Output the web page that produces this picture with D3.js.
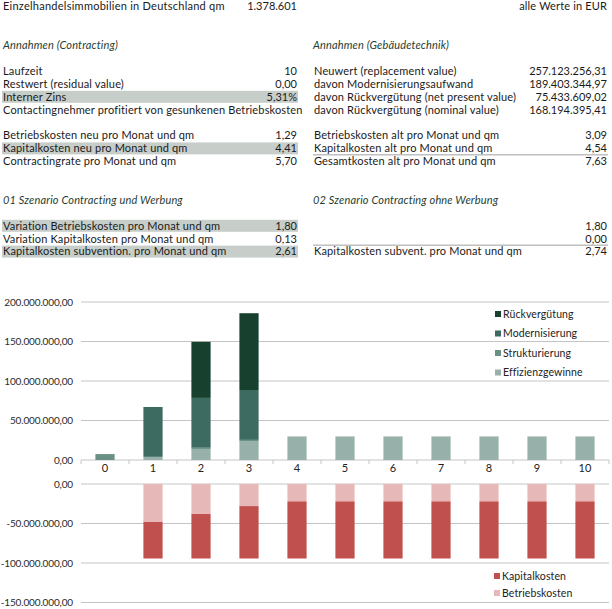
<!DOCTYPE html>
<html>
<head>
<meta charset="utf-8">
<script src="https://cdn.jsdelivr.net/npm/d3@7"></script>
<style>
  body { margin: 0; background: #fff; }
  text { font-family: Lato, "DejaVu Sans", sans-serif; }
</style>
</head>
<body>
<svg width="612" height="609"></svg>
<script>
// --- chart data (EUR) ---
const years = ["0", "1", "2", "3", "4", "5", "6", "7", "8", "9", "10"]
const effizienz = [0, 4.0e6, 14.0e6, 24.0e6, 29.8e6, 29.8e6, 29.8e6, 29.8e6, 29.8e6, 29.8e6, 29.8e6]
const strukturierung = [7.5e6, 0, 1.5e6, 1.5e6, 0, 0, 0, 0, 0, 0, 0]
const modernisierung = [0, 63.1e6, 63.1e6, 63.1e6, 0, 0, 0, 0, 0, 0, 0]
const rueckverguetung = [0, 0, 71.0e6, 97.2e6, 0, 0, 0, 0, 0, 0, 0]
const betriebskosten = [0, -48.0e6, -38.0e6, -28.0e6, -22.0e6, -22.0e6, -22.0e6, -22.0e6, -22.0e6, -22.0e6, -22.0e6]
const kapitalkosten = [0, -46.3e6, -56.3e6, -66.3e6, -72.3e6, -72.3e6, -72.3e6, -72.3e6, -72.3e6, -72.3e6, -72.3e6]
const topTicks = [0, 50e6, 100e6, 150e6, 200e6]
const bottomTicks = [0, -50e6, -100e6, -150e6]

// --- table text: [row, label, value, highlighted] ---
const leftRows = [
  [5, "Laufzeit", "10", false],
  [6, "Restwert (residual value)", "0,00", false],
  [7, "Interner Zins", "5,31%", true],
  [8, "Contactingnehmer profitiert von gesunkenen Betriebskosten", "", false],
  [10, "Betriebskosten neu pro Monat und qm", "1,29", false],
  [11, "Kapitalkosten neu pro Monat und qm", "4,41", true],
  [12, "Contractingrate pro Monat und qm", "5,70", false],
  [17, "Variation Betriebskosten pro Monat und qm", "1,80", true],
  [18, "Variation Kapitalkosten pro Monat und qm", "0,13", false],
  [19, "Kapitalkosten subvention. pro Monat und qm", "2,61", true]
]
const rightRows = [
  [5, "Neuwert (replacement value)", "257.123.256,31"],
  [6, "davon Modernisierungsaufwand", "189.403.344,97"],
  [7, "davon Rückvergütung (net present value)", "75.433.609,02"],
  [8, "davon Rückvergütung (nominal value)", "168.194.395,41"],
  [10, "Betriebskosten alt pro Monat und qm", "3,09"],
  [11, "Kapitalkosten alt pro Monat und qm", "4,54"],
  [12, "Gesamtkosten alt pro Monat und qm", "7,63"],
  [17, "", "1,80"],
  [18, "", "0,00"],
  [19, "Kapitalkosten subvent. pro Monat und qm", "2,74"]
]
const headers = [
  [3, 3, "Annahmen (Contracting)"],
  [3, 313, "Annahmen (Gebäudetechnik)"],
  [15, 3, "01 Szenario Contracting und Werbung"],
  [15, 313, "02 Szenario Contracting ohne Werbung"]
]
const ruleRows = [11.5, 18.5]

const svg = d3.select("svg")
const rowY = r => 6.5 + 12.9 * r
const textColor = "#1a1a1a"
const fontSize = 11
const ls = 0.15

// title row
svg.append("text").attr("x", 3).attr("y", rowY(0)).attr("dy", "0.35em")
  .attr("font-size", fontSize).attr("fill", textColor).attr("letter-spacing", 0.25)
  .text("Einzelhandelsimmobilien in Deutschland qm")
svg.append("text").attr("x", 297).attr("y", rowY(0)).attr("dy", "0.35em")
  .attr("text-anchor", "end").attr("font-size", fontSize).attr("fill", textColor)
  .text("1.378.601")
svg.append("text").attr("x", 607).attr("y", rowY(0)).attr("dy", "0.35em")
  .attr("text-anchor", "end").attr("font-size", fontSize).attr("fill", textColor)
  .attr("letter-spacing", ls)
  .text("alle Werte in EUR")

// highlight bands
svg.selectAll("rect.band").data(leftRows.filter(d => d[3])).join("rect")
  .attr("class", "band")
  .attr("x", 2).attr("width", 296)
  .attr("y", d => rowY(d[0]) - 6).attr("height", 12)
  .attr("fill", "#c7ceca")

svg.selectAll("text.hdr").data(headers).join("text")
  .attr("class", "hdr")
  .attr("x", d => d[1]).attr("y", d => rowY(d[0])).attr("dy", "0.35em")
  .attr("font-size", fontSize).attr("font-style", "italic").attr("fill", "#1f3d31")
  .attr("letter-spacing", ls)
  .text(d => d[2])

svg.selectAll("text.ll").data(leftRows).join("text")
  .attr("class", "ll")
  .attr("x", 3).attr("y", d => rowY(d[0])).attr("dy", "0.35em")
  .attr("font-size", fontSize).attr("fill", textColor).attr("letter-spacing", ls)
  .text(d => d[1])
svg.selectAll("text.lv").data(leftRows).join("text")
  .attr("class", "lv")
  .attr("x", 297).attr("y", d => rowY(d[0])).attr("dy", "0.35em")
  .attr("text-anchor", "end").attr("font-size", fontSize).attr("fill", textColor)
  .text(d => d[2])

svg.selectAll("text.rl").data(rightRows).join("text")
  .attr("class", "rl")
  .attr("x", 314).attr("y", d => rowY(d[0])).attr("dy", "0.35em")
  .attr("font-size", fontSize).attr("fill", textColor).attr("letter-spacing", ls)
  .text(d => d[1])
svg.selectAll("text.rv").data(rightRows).join("text")
  .attr("class", "rv")
  .attr("x", 607).attr("y", d => rowY(d[0])).attr("dy", "0.35em")
  .attr("text-anchor", "end").attr("font-size", fontSize).attr("fill", textColor)
  .text(d => d[2])

svg.selectAll("line.rule").data(ruleRows).join("line")
  .attr("class", "rule")
  .attr("x1", 313).attr("x2", 608)
  .attr("y1", d => rowY(d)).attr("y2", d => rowY(d))
  .attr("stroke", "#a0a0a0")

// --- charts ---
const x = d3.scaleBand().domain(years).range([81, 609]).paddingInner(0.6).paddingOuter(0.3)
const xb = d3.scaleBand().domain(years).range([81, 609])
const yTop = d3.scaleLinear().domain([0, 200e6]).range([460, 302])
const yBot = d3.scaleLinear().domain([-150e6, 0]).range([602.5, 484])
const fmt = v => d3.format(",.2f")(v).replace(/,/g, "#").replace(".", ",").replace(/#/g, ".").replace("−", "-")
const grid = "#c4c4c4"

// gridlines
svg.append("g").selectAll("line").data(topTicks).join("line")
  .attr("x1", 81).attr("x2", 609)
  .attr("y1", d => yTop(d)).attr("y2", d => yTop(d))
  .attr("stroke", grid)
svg.append("g").selectAll("line").data(bottomTicks).join("line")
  .attr("x1", 81).attr("x2", 609)
  .attr("y1", d => yBot(d)).attr("y2", d => yBot(d))
  .attr("stroke", grid)

// y labels
svg.append("g").selectAll("text").data(topTicks).join("text")
  .attr("x", 73).attr("y", d => yTop(d)).attr("dy", "0.35em")
  .attr("text-anchor", "end").attr("font-size", 10).attr("fill", "#2a2a2a")
  .attr("letter-spacing", -0.15)
  .text(fmt)
svg.append("g").selectAll("text").data(bottomTicks).join("text")
  .attr("x", 73).attr("y", d => yBot(d)).attr("dy", "0.35em")
  .attr("text-anchor", "end").attr("font-size", 10).attr("fill", "#2a2a2a")
  .attr("letter-spacing", -0.15)
  .text(fmt)

// category ticks and labels on top chart axis
const bounds = years.map(d => xb(d)).concat([609])
svg.append("g").selectAll("line").data(bounds).join("line")
  .attr("x1", d => d).attr("x2", d => d)
  .attr("y1", 460).attr("y2", 464)
  .attr("stroke", grid)
svg.append("g").selectAll("text").data(years).join("text")
  .attr("x", d => xb(d) + xb.bandwidth() / 2).attr("y", 468).attr("dy", "0.35em")
  .attr("text-anchor", "middle").attr("font-size", 11).attr("fill", "#222")
  .text(d => d)

// top stacked bars
const topKeys = ["Effizienzgewinne", "Strukturierung", "Modernisierung", "Rückvergütung"]
const topColors = ["#97b1aa", "#6a9085", "#3e6b61", "#17402f"]
const topTable = years.map((yr, i) => ({
  year: yr,
  Effizienzgewinne: effizienz[i],
  Strukturierung: strukturierung[i],
  Modernisierung: modernisierung[i],
  "Rückvergütung": rueckverguetung[i]
}))
const topStack = d3.stack().keys(topKeys)(topTable)
svg.append("g").selectAll("g").data(topStack).join("g")
  .attr("fill", (d, i) => topColors[i])
  .selectAll("rect").data(d => d).join("rect")
  .attr("x", d => x(d.data.year)).attr("width", x.bandwidth())
  .attr("y", d => yTop(d[1])).attr("height", d => yTop(d[0]) - yTop(d[1]))

// bottom stacked bars (negative, growing downward from 0)
const botKeys = ["Betriebskosten", "Kapitalkosten"]
const botColors = ["#e6b9b8", "#c0504d"]
const botTable = years.map((yr, i) => ({
  year: yr,
  Betriebskosten: betriebskosten[i],
  Kapitalkosten: kapitalkosten[i]
}))
const botStack = d3.stack().keys(botKeys).offset(d3.stackOffsetDiverging)(botTable)
svg.append("g").selectAll("g").data(botStack).join("g")
  .attr("fill", (d, i) => botColors[i])
  .selectAll("rect").data(d => d).join("rect")
  .attr("x", d => x(d.data.year)).attr("width", x.bandwidth())
  .attr("y", d => yBot(Math.max(d[0], d[1])))
  .attr("height", d => Math.abs(yBot(d[0]) - yBot(d[1])))

// legends
const topLegend = [["Rückvergütung", "#17402f"], ["Modernisierung", "#3e6b61"], ["Strukturierung", "#6a9085"], ["Effizienzgewinne", "#97b1aa"]]
const topLegendY = [314, 333.5, 353, 372.5]
const lg = svg.append("g").selectAll("g").data(topLegend).join("g")
  .attr("transform", (d, i) => `translate(495, ${topLegendY[i]})`)
lg.append("rect").attr("x", 0).attr("y", -3).attr("width", 6).attr("height", 6).attr("fill", d => d[1])
lg.append("text").attr("x", 8).attr("dy", "0.35em").attr("font-size", 10.5).attr("fill", "#222")
  .attr("letter-spacing", 0.1).text(d => d[0])

const botLegend = [["Kapitalkosten", "#c0504d"], ["Betriebskosten", "#e6b9b8"]]
const botLegendY = [576, 593]
const lb = svg.append("g").selectAll("g").data(botLegend).join("g")
  .attr("transform", (d, i) => `translate(494, ${botLegendY[i]})`)
lb.append("rect").attr("x", 0).attr("y", -3).attr("width", 6).attr("height", 6).attr("fill", d => d[1])
lb.append("text").attr("x", 8).attr("dy", "0.35em").attr("font-size", 10.5).attr("fill", "#222")
  .attr("letter-spacing", 0.1).text(d => d[0])
</script>
</body>
</html>
